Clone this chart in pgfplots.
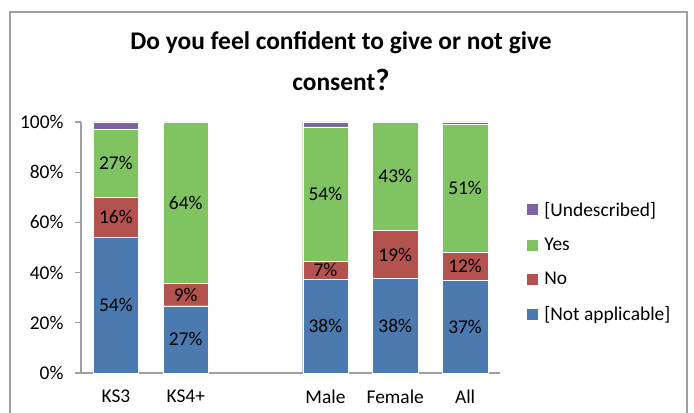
\documentclass[border=0pt]{standalone}
\usepackage{pgfplots}
\pgfplotsset{compat=1.18}
\usepackage{pgfplotstable}
\usepackage{fontspec}
\setmainfont{Carlito}
\definecolor{cNA}{HTML}{4A7AB0}
\definecolor{cNo}{HTML}{B4524F}
\definecolor{cYes}{HTML}{80C462}
\definecolor{cUnd}{HTML}{7B64A0}
\definecolor{frame}{HTML}{A0A0A0}

\pgfplotstableread{
x  na    no    yes   und
0  54.1  16.1  27.0  2.8
1  26.8  8.8   64.4  0
3  37.5  7.1   53.5  1.9
4  37.7  19.0  43.3  0
5  36.8  11.5  50.8  0.9
}\bardata

\pgfplotstableread{
x  y      l
0  27.0   54\%
0  62.1   16\%
0  83.6   27\%
1  13.4   27\%
1  31.2   9\%
1  67.8   64\%
3  18.75  38\%
3  41.05  7\%
3  71.35  54\%
4  18.85  38\%
4  47.2   19\%
4  78.35  43\%
5  18.4   37\%
5  42.55  12\%
5  73.7   51\%
}\labdata

\begin{document}
\begin{tikzpicture}[x=1bp,y=1bp]
\useasboundingbox (0,0) rectangle (694,412);
\draw[color=frame, line width=1.2bp] (10,-20) rectangle (687,400);
\node[font=\fontsize{25.5}{30}\selectfont\bfseries] at (341,369) {Do you feel confident to give or not give};
\node[font=\fontsize{25.5}{30}\selectfont\bfseries] at (341,332) {consent{\fontsize{31}{34}\selectfont ?}};

\begin{axis}[
  at={(81bp,39bp)}, anchor=south west, scale only axis,
  width=419bp, height=251bp,
  ybar stacked, bar width=0.65,
  xmin=-0.5, xmax=5.5, ymin=0, ymax=100,
  axis lines*=left,
  axis line style={color=frame, line width=1.2bp},
  xtick={0,1,3,4,5},
  xticklabels={KS3,KS4+,Male,Female,All},
  x tick style={draw=none},
  ytick={0,20,40,60,80,100},
  yticklabels={0\%,20\%,40\%,60\%,80\%,100\%},
  y tick style={color=frame, line width=1.2bp},
  tick align=outside, major tick length=6bp,
  ticklabel style={font=\fontsize{19.5}{23}\selectfont},
  xticklabel style={yshift=-7bp},
  yticklabel style={anchor=east, xshift=-8bp},
  reverse legend,
  legend cell align=left,
  legend style={at={(1.065,0.69)}, anchor=north west, draw=none, fill=none,
    font=\fontsize{19.5}{23}\selectfont, row sep=16.5bp, inner sep=0pt,
    /tikz/every odd column/.append style={column sep=4bp}},
  legend image code/.code={\draw[#1,draw=none] (0bp,-5.5bp) rectangle (11bp,5.5bp);},
]
\addplot[fill=cNA, draw=white, line width=0.4bp] table[x=x,y=na] {\bardata};
\addlegendentry{{}[Not applicable]}
\addplot[fill=cNo, draw=white, line width=0.4bp] table[x=x,y=no] {\bardata};
\addlegendentry{No}
\addplot[fill=cYes, draw=white, line width=0.4bp] table[x=x,y=yes] {\bardata};
\addlegendentry{Yes}
\addplot[fill=cUnd, draw=white, line width=0.4bp] table[x=x,y=und] {\bardata};
\addlegendentry{{}[Undescribed]}
\end{axis}

\begin{axis}[
  at={(81bp,39bp)}, anchor=south west, scale only axis,
  width=419bp, height=251bp,
  xmin=-0.5, xmax=5.5, ymin=0, ymax=100,
  hide axis,
  point meta=explicit symbolic,
  nodes near coords,
  every node near coord/.append style={anchor=center, font=\fontsize{19.5}{23}\selectfont, text=black},
]
\addplot[only marks, mark=*, mark size=0pt, draw=none, fill=none] table[x=x,y=y,meta=l] {\labdata};
\end{axis}
\end{tikzpicture}
\end{document}
